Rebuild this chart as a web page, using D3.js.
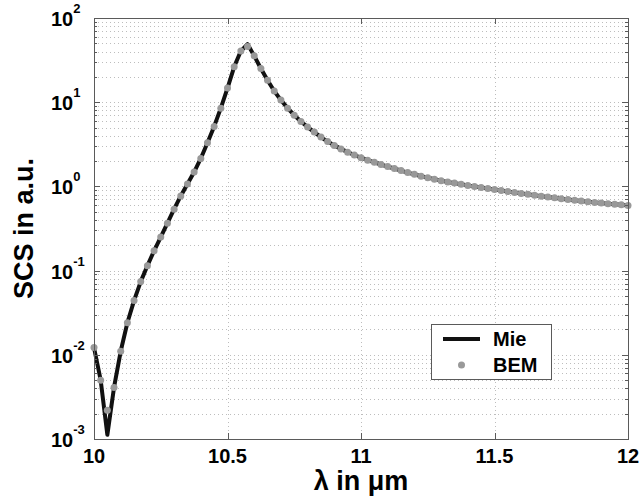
<!DOCTYPE html>
<html>
<head>
<meta charset="utf-8">
<script src="https://cdn.jsdelivr.net/npm/d3@7"></script>
<style>
  body { margin: 0; background: #fff; }
  text { font-family: "Liberation Sans", Arial, sans-serif; font-weight: bold; }
</style>
</head>
<body>
<svg></svg>
<script>
const width = 642;
const height = 496;

// wavelength grid (µm), BEM samples and Mie curve
const lambda = [
  10.000, 10.025, 10.050, 10.075, 10.100, 10.125, 10.150, 10.175, 10.200, 10.225,
  10.250, 10.275, 10.300, 10.325, 10.350, 10.375, 10.400, 10.425, 10.450, 10.475,
  10.500, 10.525, 10.550, 10.575, 10.600, 10.625, 10.650, 10.675, 10.700, 10.725,
  10.750, 10.775, 10.800, 10.825, 10.850, 10.875, 10.900, 10.925, 10.950, 10.975,
  11.000, 11.025, 11.050, 11.075, 11.100, 11.125, 11.150, 11.175, 11.200, 11.225,
  11.250, 11.275, 11.300, 11.325, 11.350, 11.375, 11.400, 11.425, 11.450, 11.475,
  11.500, 11.525, 11.550, 11.575, 11.600, 11.625, 11.650, 11.675, 11.700, 11.725,
  11.750, 11.775, 11.800, 11.825, 11.850, 11.875, 11.900, 11.925, 11.950, 11.975,
  12.000
];
const bem = [
  0.0122, 0.0050, 0.0022, 0.0041, 0.011, 0.024, 0.044, 0.074, 0.114, 0.172,
  0.25, 0.366, 0.537, 0.77, 1.07, 1.48, 2.15, 3.3, 5.16, 8.5,
  14.7, 26.3, 40.5, 45.9, 35.5, 25.1, 18.2, 13.6, 10.6, 8.5,
  7.0, 5.9, 5.07, 4.42, 3.85, 3.41, 3.07, 2.79, 2.55, 2.36,
  2.19, 2.05, 1.93, 1.82, 1.72, 1.63, 1.54, 1.46, 1.39, 1.32,
  1.27, 1.22, 1.17, 1.13, 1.094, 1.059, 1.028, 1.0, 0.973, 0.946,
  0.92, 0.895, 0.871, 0.847, 0.826, 0.805, 0.785, 0.766, 0.748, 0.731,
  0.715, 0.698, 0.684, 0.67, 0.658, 0.646, 0.634, 0.624, 0.614, 0.604,
  0.594
];
const mie = [
  0.0122, 0.0050, 0.00112, 0.0041, 0.011, 0.024, 0.044, 0.074, 0.114, 0.172,
  0.25, 0.366, 0.537, 0.77, 1.07, 1.48, 2.15, 3.3, 5.16, 8.5,
  14.7, 26.3, 40.5, 49, 35.5, 25.1, 18.2, 13.6, 10.6, 8.5,
  7.0, 5.9, 5.07, 4.42, 3.85, 3.41, 3.07, 2.79, 2.55, 2.36,
  2.19, 2.05, 1.93, 1.82, 1.72, 1.63, 1.54, 1.46, 1.39, 1.32,
  1.27, 1.22, 1.17, 1.13, 1.094, 1.059, 1.028, 1.0, 0.973, 0.946,
  0.92, 0.895, 0.871, 0.847, 0.826, 0.805, 0.785, 0.766, 0.748, 0.731,
  0.715, 0.698, 0.684, 0.67, 0.658, 0.646, 0.634, 0.624, 0.614, 0.604,
  0.594
];
const xTicks = [10, 10.5, 11, 11.5, 12];
const yExponents = [-3, -2, -1, 0, 1, 2];
const legendLabels = ['Mie', 'BEM'];

const margin = {left: 94, right: 14, top: 18, bottom: 57};

const svg = d3.select('svg')
    .attr('width', width)
    .attr('height', height);

const x = d3.scaleLinear().domain([10, 12]).range([margin.left, width - margin.right]);
const y = d3.scaleLog().domain([1e-3, 1e2]).range([height - margin.bottom, margin.top]);

const x0 = x.range()[0], x1 = x.range()[1];
const y0 = y.range()[0], y1 = y.range()[1];

// all log positions for minor grid / ticks
const logTicks = [];
yExponents.slice(0, -1).forEach(e => {
    for (let m = 1; m < 10; m++) logTicks.push(m * Math.pow(10, e));
});
logTicks.push(100);

const grid = svg.append('g').attr('class', 'grid')
    .attr('stroke', '#bdbdbd')
    .attr('stroke-width', 1)
    .attr('stroke-dasharray', '1,3');

grid.selectAll('line.h')
    .data(logTicks.filter(d => d > 1e-3 && d < 1e2))
    .enter().append('line')
    .attr('x1', x0).attr('x2', x1)
    .attr('y1', d => Math.round(y(d)) + 0.5)
    .attr('y2', d => Math.round(y(d)) + 0.5);

grid.selectAll('line.v')
    .data(xTicks.slice(1, -1))
    .enter().append('line')
    .attr('x1', d => Math.round(x(d)) + 0.5)
    .attr('x2', d => Math.round(x(d)) + 0.5)
    .attr('y1', y0).attr('y2', y1);

// Mie curve
const line = d3.line()
    .x((d, i) => x(lambda[i]))
    .y(d => y(d));

svg.append('path')
    .datum(mie)
    .attr('d', line)
    .attr('fill', 'none')
    .attr('stroke', '#111')
    .attr('stroke-width', 4)
    .attr('stroke-linejoin', 'round');

// BEM points
svg.append('g').selectAll('circle')
    .data(bem)
    .enter().append('circle')
    .attr('cx', (d, i) => x(lambda[i]))
    .attr('cy', d => y(d))
    .attr('r', 3.5)
    .attr('fill', '#999');

// axes box and ticks
const axisColor = '#5a5a5a';
const ticks = svg.append('g').attr('stroke', axisColor).attr('stroke-width', 1);

ticks.append('rect')
    .attr('x', x0 + 0.5).attr('y', y1 + 0.5)
    .attr('width', x1 - x0).attr('height', y0 - y1)
    .attr('fill', 'none');

xTicks.forEach(t => {
    const px = Math.round(x(t)) + 0.5;
    ticks.append('line').attr('x1', px).attr('x2', px).attr('y1', y0).attr('y2', y0 - 6);
    ticks.append('line').attr('x1', px).attr('x2', px).attr('y1', y1).attr('y2', y1 + 6);
});

logTicks.forEach(t => {
    const py = Math.round(y(t)) + 0.5;
    const major = Math.abs(Math.log10(t) - Math.round(Math.log10(t))) < 1e-9;
    const len = major ? 6 : 3;
    ticks.append('line').attr('x1', x0).attr('x2', x0 + len).attr('y1', py).attr('y2', py);
    ticks.append('line').attr('x1', x1).attr('x2', x1 - len).attr('y1', py).attr('y2', py);
});

// x tick labels
svg.append('g').selectAll('text')
    .data(xTicks)
    .enter().append('text')
    .attr('x', d => x(d))
    .attr('y', y0 + 24)
    .attr('text-anchor', 'middle')
    .attr('font-size', 20)
    .attr('fill', '#000')
    .text(d => d);

// y tick labels
const yLab = svg.append('g').selectAll('text')
    .data(yExponents)
    .enter().append('text')
    .attr('x', 51)
    .attr('y', d => y(Math.pow(10, d)) + 8)
    .attr('font-size', 20)
    .attr('fill', '#000');
yLab.append('tspan').text('10');
yLab.append('tspan')
    .attr('dy', -13)
    .attr('font-size', 13)
    .text(d => d);

// axis titles
svg.append('text')
    .attr('transform', `translate(33, ${(y0 + y1) / 2}) rotate(-90)`)
    .attr('text-anchor', 'middle')
    .attr('font-size', 27)
    .text('SCS in a.u.');

svg.append('text')
    .attr('x', (x0 + x1) / 2)
    .attr('y', 490)
    .attr('text-anchor', 'middle')
    .attr('font-size', 27)
    .text('λ in μm');

// legend
const legend = svg.append('g');
legend.append('rect')
    .attr('x', 431.5).attr('y', 324.5)
    .attr('width', 120).attr('height', 55)
    .attr('fill', '#fff')
    .attr('stroke', axisColor);

legend.append('line')
    .attr('x1', 443).attr('x2', 480)
    .attr('y1', 339).attr('y2', 339)
    .attr('stroke', '#111').attr('stroke-width', 4);

legend.append('circle')
    .attr('cx', 461.5).attr('cy', 365)
    .attr('r', 3.5)
    .attr('fill', '#999');

legend.selectAll('text.lbl')
    .data(legendLabels)
    .enter().append('text')
    .attr('x', 493)
    .attr('y', (d, i) => 346 + i * 26)
    .attr('font-size', 20)
    .text(d => d);
</script>
</body>
</html>
